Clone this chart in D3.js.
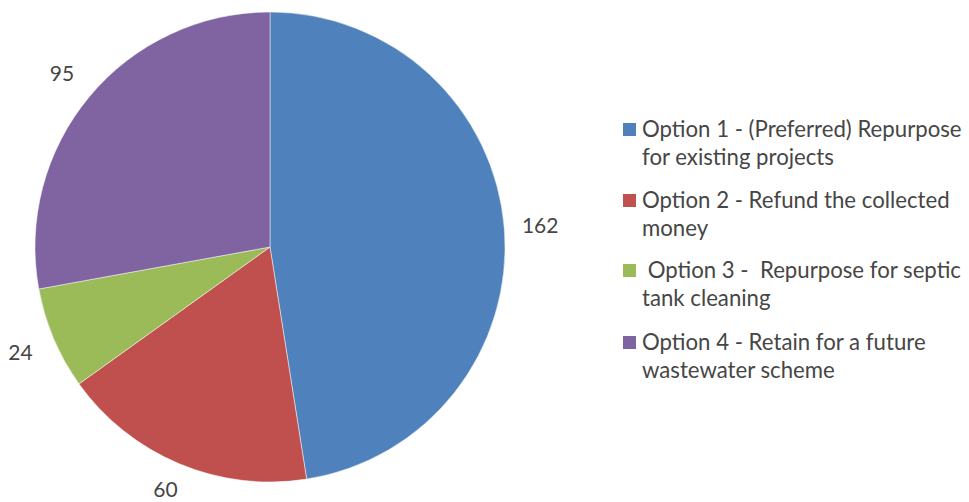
<!DOCTYPE html>
<html>
<head>
<meta charset="utf-8">
<script src="https://cdn.jsdelivr.net/npm/d3@7"></script>
<style>
  html, body { margin: 0; padding: 0; background: #fff; }
  svg { display: block; }
  text { font-family: Lato, "Open Sans", sans-serif; fill: #464646; }
</style>
</head>
<body>
<svg id="chart" width="969" height="502"></svg>
<script>
// Survey responses per option
const categories = ["Option 1", "Option 2", "Option 3", "Option 4"];
const values = [162, 60, 24, 95];
const legendLines = [
  ["Option 1 - (Preferred) Repurpose", "for existing projects"],
  ["Option 2 - Refund the collected", "money"],
  [" Option 3 -  Repurpose for septic", "tank cleaning"],
  ["Option 4 - Retain for a future", "wastewater scheme"]
];
const colors = ["#4F81BD", "#C0504D", "#9BBB59", "#8064A2"];

const width = 969, height = 502;
const svg = d3.select("#chart");
const cx = 270, cy = 247, radius = 235, labelRadius = 271;

const color = d3.scaleOrdinal().domain(categories).range(colors);

const pie = d3.pie().sort(null).value(d => d.value);
const arcs = pie(categories.map((c, i) => ({ cat: c, value: values[i] })));

const arc = d3.arc().innerRadius(0).outerRadius(radius);
const labelArc = d3.arc().innerRadius(labelRadius).outerRadius(labelRadius);

const g = svg.append("g").attr("transform", `translate(${cx},${cy})`);

g.selectAll("path.slice")
  .data(arcs)
  .join("path")
  .attr("class", "slice")
  .attr("d", arc)
  .attr("fill", d => color(d.data.cat))
  .attr("stroke", "#ffffff")
  .attr("stroke-opacity", 0.6)
  .attr("stroke-width", 0.8);

// value labels sit just outside each slice, kept inside the canvas
const labelSize = 21;
g.selectAll("text.value")
  .data(arcs)
  .join("text")
  .attr("class", "value")
  .attr("transform", d => {
    const [x, y] = labelArc.centroid(d);
    const maxY = height - cy - labelSize * 0.62;
    return `translate(${x},${Math.min(y, maxY)})`;
  })
  .attr("text-anchor", "middle")
  .attr("dy", "0.36em")
  .style("font-size", labelSize + "px")
  .text(d => d.data.value);

// Legend
const legendX = 623, textX = 642;
const firstBaselines = [137, 208, 278, 350];
const lineGap = 28;

const legend = svg.append("g").attr("class", "legend");
categories.forEach((c, i) => {
  const y0 = firstBaselines[i];
  legend.append("rect")
    .attr("x", legendX)
    .attr("y", y0 - 14)
    .attr("width", 13)
    .attr("height", 13)
    .attr("fill", color(c));
  const t = legend.append("text")
    .attr("x", textX)
    .attr("y", y0)
    .style("font-size", "22.2px")
    .attr("xml:space", "preserve")
    .style("white-space", "pre");
  legendLines[i].forEach((line, j) => {
    t.append("tspan")
      .attr("x", textX)
      .attr("y", y0 + j * lineGap)
      .text(line);
  });
});
</script>
</body>
</html>
